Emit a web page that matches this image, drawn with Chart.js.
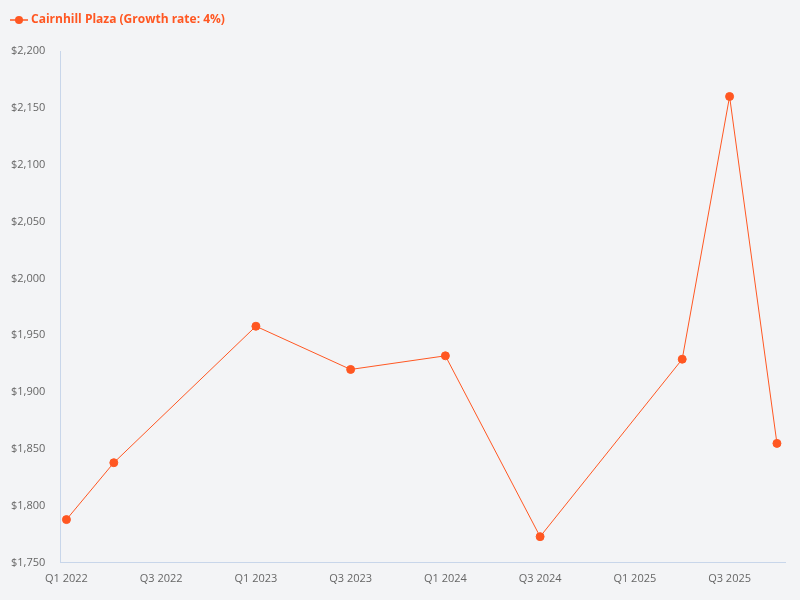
<!DOCTYPE html>
<html>
<head>
<meta charset="utf-8">
<script src="https://cdn.jsdelivr.net/npm/chart.js@4"></script>
<style>
  html, body { margin: 0; padding: 0; background: #f3f4f6; }
  #wrap { width: 800px; height: 600px; }
</style>
</head>
<body>
<div id="wrap"><canvas id="rentChart"></canvas></div>
<script>
const quarters = [
  'Q1 2022', 'Q2 2022', 'Q3 2022', 'Q4 2022',
  'Q1 2023', 'Q2 2023', 'Q3 2023', 'Q4 2023',
  'Q1 2024', 'Q2 2024', 'Q3 2024', 'Q4 2024',
  'Q1 2025', 'Q2 2025', 'Q3 2025', 'Q4 2025'
];
const rents = [
  1788, 1838, null, null,
  1958, null, 1920, null,
  1932, null, 1773, null,
  null, 1929, 2160, 1855
];
const seriesName = 'Cairnhill Plaza (Growth rate: 4%)';
const lineColor = '#ff5722';

// points only where there is a value, x = quarter index
const points = [];
rents.forEach((v, i) => {
  if (v !== null) points.push({ x: i, y: v });
});

// legend marker: short line with dot
const marker = document.createElement('canvas');
marker.width = 22; marker.height = 10;
const mctx = marker.getContext('2d');
mctx.strokeStyle = lineColor;
mctx.lineWidth = 1.5;
mctx.beginPath(); mctx.moveTo(2, 5); mctx.lineTo(20, 5); mctx.stroke();
mctx.fillStyle = lineColor;
mctx.beginPath(); mctx.arc(11, 5, 4, 0, Math.PI * 2); mctx.fill();

// extra room under the legend
const legendGap = {
  id: 'legendGap',
  beforeInit(chart) {
    const fit = chart.legend.fit;
    chart.legend.fit = function () {
      fit.bind(chart.legend)();
      this.height += 15;
    };
  }
};

Chart.defaults.font.family = '"Open Sans", "Noto Sans", sans-serif';

const ctx = document.getElementById('rentChart').getContext('2d');
new Chart(ctx, {
  type: 'line',
  data: {
    datasets: [{
      label: seriesName,
      data: points,
      borderColor: lineColor,
      backgroundColor: lineColor,
      borderWidth: 1,
      pointRadius: 4,
      pointHoverRadius: 5,
      pointStyle: 'circle',
      tension: 0,
      fill: false
    }]
  },
  plugins: [legendGap],
  options: {
    responsive: true,
    maintainAspectRatio: false,
    animation: false,
    layout: { padding: { left: 1, right: 15, top: 2, bottom: 6 } },
    plugins: {
      legend: {
        align: 'start',
        labels: {
          usePointStyle: true,
          pointStyle: marker,
          color: lineColor,
          font: { size: 12, weight: 'bold' },
          padding: 12
        }
      },
      tooltip: { enabled: false }
    },
    scales: {
      x: {
        type: 'linear',
        min: -0.13,
        max: 15.17,
        grid: { display: false, drawTicks: false },
        border: { color: '#c8d6ea' },
        afterBuildTicks: (axis) => {
          axis.ticks = quarters.map((q, i) => ({ value: i })).filter((t, i) => i % 2 === 0);
        },
        ticks: {
          color: '#666',
          font: { size: 11 },
          padding: 9,
          maxRotation: 0,
          callback: (v) => quarters[v]
        }
      },
      y: {
        min: 1750,
        max: 2200,
        grid: { display: false, drawTicks: false },
        border: { color: '#c8d6ea' },
        afterFit: (axis) => { axis.width -= 5; },
        ticks: {
          stepSize: 50,
          color: '#666',
          font: { size: 11 },
          padding: 15,
          callback: (v) => '$' + v.toLocaleString('en-US')
        }
      }
    }
  }
});
</script>
</body>
</html>
